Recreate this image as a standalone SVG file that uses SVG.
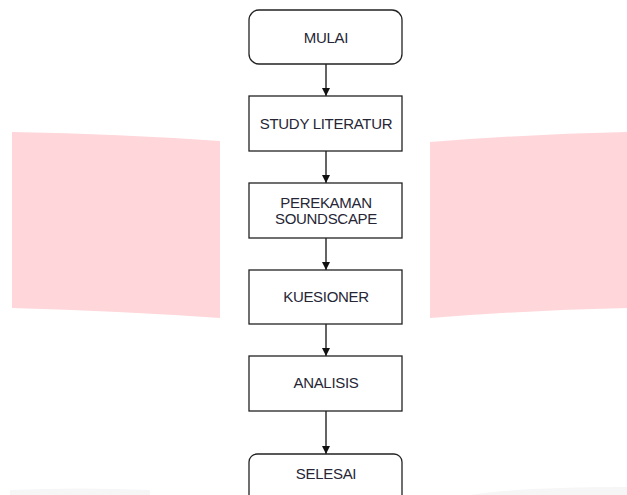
<svg xmlns="http://www.w3.org/2000/svg" width="627" height="495" viewBox="0 0 627 495">
<defs>
<style>
.node{fill:#fff;stroke:#222;stroke-width:1.3}
.lbl{font-family:"Liberation Sans",Arial,sans-serif;font-size:15px;letter-spacing:-0.3px;fill:#262636;text-anchor:middle;dominant-baseline:central}
.conn{stroke:#111;stroke-width:1.3;fill:none;marker-end:url(#arr)}
.bg{fill:#ffd6d9}
</style>
<marker id="arr" viewBox="0 0 10 10" refX="10" refY="5" markerWidth="8" markerHeight="8" markerUnits="userSpaceOnUse" orient="auto">
<path d="M0,0 L10,5 L0,10 z" fill="#111"/>
</marker>
</defs>
<rect width="627" height="495" fill="#fff"/>
<g id="background">
<path class="bg" d="M12,132 Q120,134 220,141 L220,318 Q120,311 12,308 Z"/>
<path class="bg" d="M430,142 Q530,134 627,132 L627,308 Q530,310 430,318 Z"/>
<path d="M10,495 L10,490 Q80,487 150,490 L150,495 Z M470,495 Q520,487 627,487 L627,495 Z" fill="#f6f6f6"/>
</g>
<g id="connectors">
<line class="conn" x1="326" y1="64" x2="326" y2="96"/>
<line class="conn" x1="326" y1="151" x2="326" y2="183"/>
<line class="conn" x1="326" y1="238" x2="326" y2="270"/>
<line class="conn" x1="326" y1="324" x2="326" y2="356"/>
<line class="conn" x1="326" y1="411" x2="326" y2="454"/>
</g>
<g id="mulai">
<rect class="node" x="249" y="10" width="153" height="54" rx="10"/>
<text class="lbl" x="326" y="37">MULAI</text>
</g>
<g id="study">
<rect class="node" x="249" y="96" width="153" height="55"/>
<text class="lbl" x="326" y="123">STUDY LITERATUR</text>
</g>
<g id="perekaman">
<rect class="node" x="249" y="183" width="153" height="55"/>
<text class="lbl" x="326" y="202">PEREKAMAN</text>
<text class="lbl" x="326" y="218">SOUNDSCAPE</text>
</g>
<g id="kuesioner">
<rect class="node" x="249" y="270" width="153" height="54"/>
<text class="lbl" x="326" y="296">KUESIONER</text>
</g>
<g id="analisis">
<rect class="node" x="249" y="356" width="153" height="55"/>
<text class="lbl" x="326" y="382">ANALISIS</text>
</g>
<g id="selesai">
<rect class="node" x="249" y="454" width="153" height="60" rx="8"/>
<text class="lbl" x="326" y="473">SELESAI</text>
</g>
</svg>
